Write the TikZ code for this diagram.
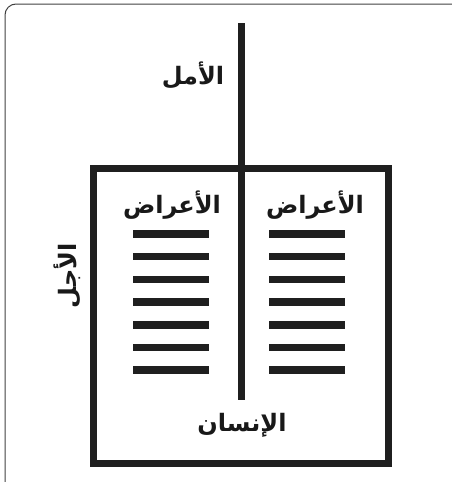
\documentclass[tikz,border=0pt]{standalone}
\usepackage{fontspec}
\TeXXeTstate=1
\newfontfamily\arabicfont[Script=Arabic]{DejaVu Sans}
\begin{document}
\begin{tikzpicture}[x=1pt,y=-1pt,
  lbl/.style={font=\arabicfont\bfseries\fontsize{24}{28}\selectfont, inner sep=0pt, text=black!90},
  thick line/.style={line width=7pt, draw=black!88},
  bar/.style={line width=7.5pt, draw=black!88},
  frame/.style={line width=1pt, draw=black!75, rounded corners=11pt}]
\useasboundingbox (0,0) rectangle (451,482);
\draw[frame] (5,4) rectangle (465,495);
% main box
\draw[thick line] (93.5,168.5) rectangle (388.5,463.5);
% vertical line
\coordinate (vtop) at (241,23);
\coordinate (vbot) at (241,400);
\draw[thick line] (vtop) -- (vbot);
% bars
\foreach \k in {0,...,6}{
  \coordinate (l\k a) at (133,{234+22.7*\k});
  \coordinate (l\k b) at (209,{234+22.7*\k});
  \coordinate (r\k a) at (269,{234+22.7*\k});
  \coordinate (r\k b) at (345,{234+22.7*\k});
  \draw[bar] (l\k a) -- (l\k b);
  \draw[bar] (r\k a) -- (r\k b);
}
% labels
\node[lbl] (amal) at (193,75) {\beginR الأمل\endR};
\node[lbl] (aradL) at (172,205) {\beginR الأعراض\endR};
\node[lbl] (aradR) at (315,205) {\beginR الأعراض\endR};
\node[lbl] (insan) at (242,425) {\beginR الإنسان\endR};
\node[lbl, rotate=90] (ajal) at (67,276) {\beginR الأجل\endR};
\end{tikzpicture}
\end{document}
